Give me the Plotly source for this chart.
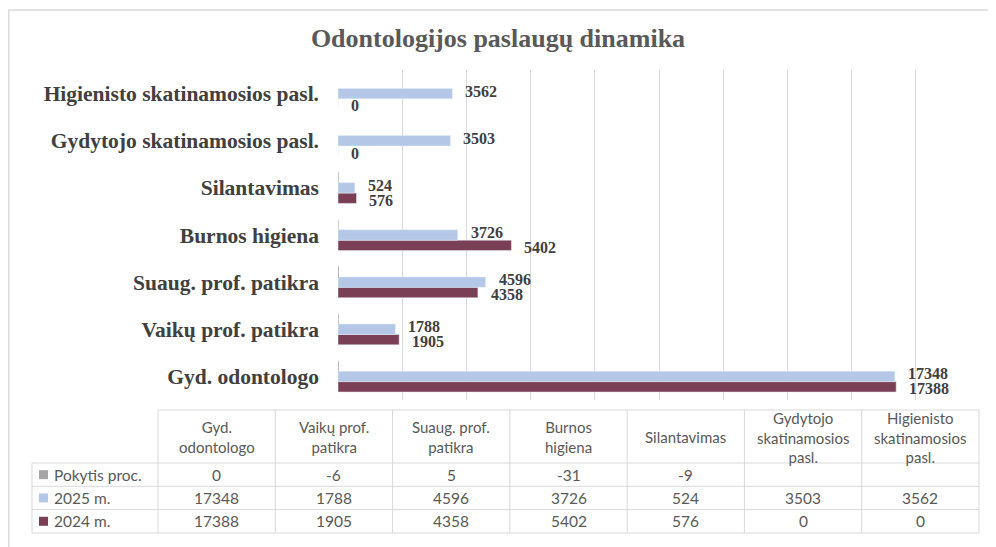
import plotly.graph_objects as go

# ---------------- data ----------------
categories = ["Gyd. odontologo", "Vaikų prof. patikra", "Suaug. prof. patikra",
              "Burnos higiena", "Silantavimas", "Gydytojo skatinamosios pasl.",
              "Higienisto skatinamosios pasl."]
table_headers = ["Gyd.<br>odontologo", "Vaikų prof.<br>patikra", "Suaug. prof.<br>patikra",
                 "Burnos<br>higiena", "Silantavimas", "Gydytojo<br>skatinamosios<br>pasl.",
                 "Higienisto<br>skatinamosios<br>pasl."]
pokytis = [0, -6, 5, -31, -9, None, None]
y2025 = [17348, 1788, 4596, 3726, 524, 3503, 3562]
y2024 = [17388, 1905, 4358, 5402, 576, 0, 0]

series_names = ["Pokytis proc.", "2025 m.", "2024 m."]
series_values = [pokytis, y2025, y2024]
series_colors = ["#A5A5A5", "#B4C7E7", "#7A3E55"]

title = "Odontologijos paslaugų dinamika"

# page body has an 8px margin -> work in reference pixels, shift by OFF
OFF = 8
W, H = 996 - OFF, 547 - OFF
L, R, T, B = 338, 980, 70, 400  # plot area in reference pixels
BARGAP = 0.34


def px2x(px):
    return (px - L) / (R - L)


def py2y(py):
    return (B - py) / (B - T)


serif = "Liberation Serif"
sans = "Lato"
txt_dark = "#404040"
txt_gray = "#595959"
grid_col = "#D9D9D9"

fig = go.Figure()

# traces ordered bottom -> top inside a category group
fig.add_trace(go.Bar(y=categories, x=y2024, orientation="h", name="2024 m.",
                     marker=dict(color=series_colors[2]), hoverinfo="x+name"))
fig.add_trace(go.Bar(y=categories, x=y2025, orientation="h", name="2025 m.",
                     marker=dict(color=series_colors[1]), hoverinfo="x+name"))
fig.add_trace(go.Bar(y=categories, x=pokytis, orientation="h", name="Pokytis proc.",
                     marker=dict(color=series_colors[0], line=dict(color=series_colors[0], width=1)),
                     hoverinfo="x+name"))

shapes = []
annotations = []

# ---------- data labels (anchored to data values) ----------
band = (B - T) / len(categories)
bar_th = band * (1 - BARGAP) / 3
label_font = dict(family=serif, size=16, color=txt_dark, weight="bold")
for cat, v in zip(categories, y2025):
    annotations.append(dict(x=v, y=cat, xref="x", yref="y", text=str(v), showarrow=False,
                            xanchor="left", yanchor="middle", xshift=11, yshift=2.5,
                            font=label_font))
for cat, v in zip(categories, y2024):
    annotations.append(dict(x=v, y=cat, xref="x", yref="y", text=str(v), showarrow=False,
                            xanchor="left", yanchor="middle", xshift=11, yshift=-(bar_th + 2),
                            font=label_font))

# ---------- chart border ----------
shapes.append(dict(type="rect", xref="paper", yref="paper",
                   x0=px2x(8.8), x1=px2x(1010), y0=py2y(570), y1=py2y(10),
                   line=dict(color="#D9D9D9", width=1.5), layer="below"))

# ---------- data table ----------
col_left = 158
col_w = (979 - 158) / len(categories)
col_edges = [col_left + i * col_w for i in range(len(categories) + 1)]
head_top, head_bot = 410, 463
row_edges = [463, 486.3, 509.6, 533]
row_head_left = 32
line_style = dict(color="#D9D9D9", width=1)

shapes.append(dict(type="line", xref="paper", yref="paper",
                   x0=px2x(col_edges[0]), x1=px2x(col_edges[-1]),
                   y0=py2y(head_top), y1=py2y(head_top), line=line_style))
for ce in col_edges:
    shapes.append(dict(type="line", xref="paper", yref="paper",
                       x0=px2x(ce), x1=px2x(ce), y0=py2y(head_top), y1=py2y(row_edges[-1]),
                       line=line_style))
shapes.append(dict(type="line", xref="paper", yref="paper",
                   x0=px2x(row_head_left), x1=px2x(row_head_left),
                   y0=py2y(row_edges[0]), y1=py2y(row_edges[-1]), line=line_style))
for re_ in row_edges:
    shapes.append(dict(type="line", xref="paper", yref="paper",
                       x0=px2x(row_head_left), x1=px2x(col_edges[-1]),
                       y0=py2y(re_), y1=py2y(re_), line=line_style))

tfont = dict(family=sans, size=15.5, color=txt_gray)
hfont = dict(family=sans, size=15, color=txt_gray)

for i, h in enumerate(table_headers):
    cx = (col_edges[i] + col_edges[i + 1]) / 2
    annotations.append(dict(xref="paper", yref="paper", x=px2x(cx), y=py2y((head_top + head_bot) / 2 + 1),
                            text=h, showarrow=False, font=hfont, align="center",
                            xanchor="center", yanchor="middle"))

for r, (name, vals, col) in enumerate(zip(series_names, series_values, series_colors)):
    cy = (row_edges[r] + row_edges[r + 1]) / 2
    shapes.append(dict(type="rect", xref="paper", yref="paper",
                       x0=px2x(39), x1=px2x(48), y0=py2y(cy + 4.5), y1=py2y(cy - 4.5),
                       fillcolor=col, line=dict(width=0)))
    annotations.append(dict(xref="paper", yref="paper", x=px2x(52), y=py2y(cy),
                            text=name, showarrow=False, font=tfont,
                            xanchor="left", yanchor="middle"))
    for i, v in enumerate(vals):
        if v is None:
            continue
        cx = (col_edges[i] + col_edges[i + 1]) / 2
        annotations.append(dict(xref="paper", yref="paper", x=px2x(cx), y=py2y(cy),
                                text=str(v), showarrow=False, font=tfont,
                                xanchor="center", yanchor="middle"))

fig.update_layout(
    width=W, height=H,
    margin=dict(l=L - OFF, r=W - (R - OFF), t=T - OFF, b=H - (B - OFF), pad=0),
    paper_bgcolor="white", plot_bgcolor="white",
    barmode="group", bargap=BARGAP, bargroupgap=0,
    showlegend=False,
    title=dict(text=title, x=(498 - OFF) / W, xref="container", xanchor="center",
               y=1 - (38 - OFF) / H, yref="container", yanchor="middle",
               font=dict(family=serif, size=26, color=txt_gray, weight="bold")),
    xaxis=dict(range=[0, 20000], dtick=2000, showgrid=True, gridcolor=grid_col, gridwidth=1,
               showticklabels=False, zeroline=False, showline=False, fixedrange=True),
    yaxis=dict(categoryorder="array", categoryarray=categories,
               tickfont=dict(family=serif, size=21.5, color=txt_dark, weight="bold"),
               ticks="", showgrid=False, zeroline=False, showline=False,
               ticklabelstandoff=18),
    shapes=shapes,
    annotations=annotations,
)

fig.write_html("out.html")
